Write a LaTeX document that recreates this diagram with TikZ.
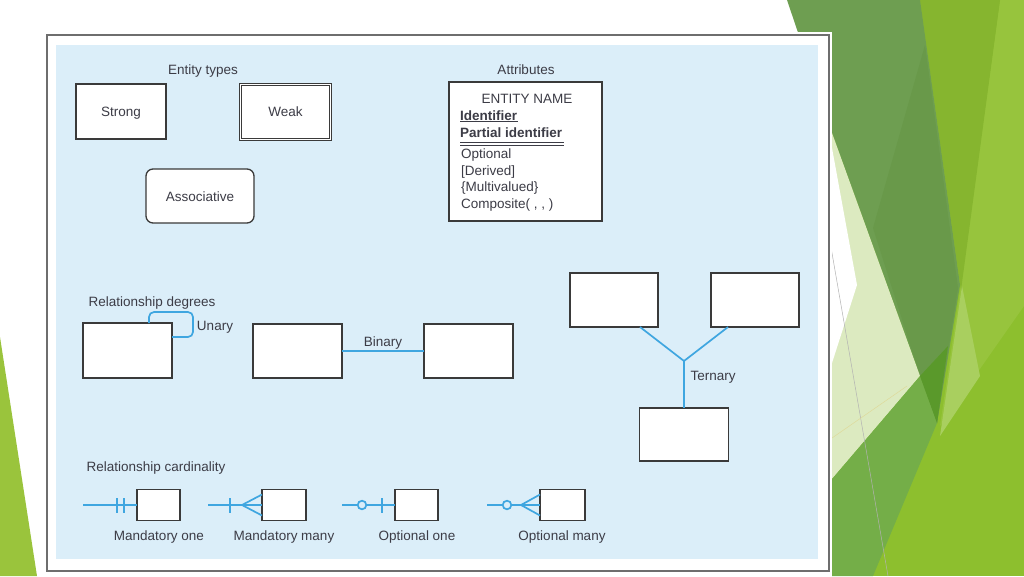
\documentclass[tikz,border=0pt]{standalone}
\usepackage{fontspec}
\setmainfont{Liberation Sans}
\usetikzlibrary{calc}
\definecolor{bgblue}{HTML}{DBEEF9}
\definecolor{relblue}{HTML}{3FA6E0}
\definecolor{boxline}{HTML}{3A3A3A}
\definecolor{txt}{HTML}{3C3C46}
\definecolor{framegray}{HTML}{6E6E6E}
\definecolor{gband}{HTML}{6E9E51}
\definecolor{gdark}{HTML}{69994A}
\definecolor{gyel}{HTML}{86B52F}
\definecolor{glight}{HTML}{97C43D}
\definecolor{gsliver}{HTML}{A9CF5F}
\definecolor{gbright}{HTML}{8DBF2E}
\definecolor{gpale}{HTML}{DCEAC0}
\definecolor{gmed}{HTML}{74AE48}
\definecolor{gdeep}{HTML}{5A992B}
\definecolor{gleft}{HTML}{9AC43C}
\begin{document}
\begin{tikzpicture}[x=1pt,y=-1pt,
  elbl/.style={text=txt,font=\fontsize{13.5}{16}\selectfont,inner sep=0pt,text height=9.7pt,text depth=2.9pt},
  lbl/.style={elbl,yshift=-1.6pt},
  blbl/.style={elbl,font=\fontsize{13.5}{16}\selectfont\bfseries},
  ebox/.style={draw=boxline,line width=1.3pt,fill=white,inner sep=0pt,outer sep=0pt},
  rel/.style={draw=relblue,line width=1.7pt}]
\useasboundingbox (0,0) rectangle (1024,576);
\fill[white] (0,0) rectangle (1024,576);
% ---- background decoration (right) ----
\fill[gbright] (832,0) rectangle (1024,576);
\fill[glight] (1000,0) -- (1024,0) -- (1024,306) -- (940,426) -- (960,290) -- cycle;
\fill[gsliver] (962,286) -- (980,376) -- (940,436) -- cycle;
\fill[gyel] (920,0) -- (1000,0) -- (961,290) -- cycle;
\fill[gband] (787,0) -- (920,0) -- (960,285) -- (937,423) -- (920,376) -- (832,133) -- cycle;
\fill[gdark] (925,45) -- (958,288) -- (937,423) -- (920,376) -- (873,228) -- cycle;
\fill[gpale] (832,133) -- (920,376) -- (832,479) -- cycle;
\fill[white] (832,148) -- (857,285) -- (832,363) -- cycle;
\fill[gmed] (832,479) -- (920,376) -- (937,423) -- (873,576) -- (832,576) -- cycle;
\fill[gdeep] (920,376) -- (948,346) -- (937,423) -- cycle;
\draw[draw=gray!60,line width=0.5pt] (828,230) -- (888,576);
\draw[draw=olive!30,line width=0.5pt] (832,438) -- (907,386);
% ---- left decoration ----
\fill[gleft] (0,337) -- (37,576) -- (0,576) -- cycle;
% ---- frame ----
\fill[white] (44,32) rectangle (832,574);
\draw[draw=framegray,line width=1.8pt] (47,35) rectangle (829,571);
\fill[bgblue] (56,45) rectangle (818,559);
% ---- entity types ----
\node[lbl] (enttypes) at (203,69) {Entity types};
\node[ebox,minimum width=90pt,minimum height=55pt] (strong) at (121,111.5) {};
\node[lbl] (strongt) at (121,111.5) {Strong};
\node[ebox,line width=1pt,double=white,double distance=1.6pt,minimum width=90pt,minimum height=55pt] (weak) at (285.5,112) {};
\node[lbl] (weakt) at (285.5,111.5) {Weak};
\node[ebox,rounded corners=7pt,minimum width=108pt,minimum height=54pt] (assoc) at (200,196) {};
\node[lbl] (assoct) at (200,196) {Associative};
% ---- attributes ----
\node[lbl] (attr) at (526,69) {Attributes};
\node[ebox,minimum width=153pt,minimum height=139pt] (ent) at (525.5,151.5) {};
\node[elbl] (ename) at (527,99.9) {ENTITY NAME};
\node[blbl,anchor=west] (idf) at (460,116.6) {Identifier};
\node[blbl,anchor=west] (pidf) at (460,133.9) {Partial identifier};
\node[elbl,anchor=west] (opt) at (461,155) {Optional};
\node[elbl,anchor=west] (der) at (461,171.8) {[Derived]};
\node[elbl,anchor=west] (mult) at (461,188.5) {\{Multivalued\}};
\node[elbl,anchor=west] (comp) at (461,205.2) {Composite( , , )};
\draw[draw=txt,line width=0.9pt] (460,121.5) -- (518,121.5);
\draw[draw=txt,line width=0.9pt] (460,142.6) -- (564,142.6);
\draw[draw=txt,line width=0.9pt] (460,145.2) -- (564,145.2);
% ---- relationship degrees ----
\node[lbl] (reldeg) at (152,301) {Relationship degrees};
\node[ebox,minimum width=89pt,minimum height=55pt] (u) at (127.5,350.5) {};
\draw[rel,rounded corners=5pt] ([xshift=-23pt]u.north east) |- (193,312) |- ([yshift=-14pt]u.north east);
\node[lbl] (unary) at (215,325) {Unary};
\node[ebox,minimum width=89pt,minimum height=54pt] (b1) at (297.5,351) {};
\node[ebox,minimum width=89pt,minimum height=54pt] (b2) at (468.5,351) {};
\draw[rel] (b1.east) -- (b2.west);
\node[lbl] (binary) at (383,341) {Binary};
\node[ebox,minimum width=88pt,minimum height=54pt] (t1) at (614,300) {};
\node[ebox,minimum width=88pt,minimum height=54pt] (t2) at (755,300) {};
\node[ebox,minimum width=89pt,minimum height=53pt] (t3) at (684,434.5) {};
\coordinate (tj) at (684,361);
\draw[rel] ([xshift=26pt]t1.south) -- (tj);
\draw[rel] ([xshift=-27pt]t2.south) -- (tj);
\draw[rel] (tj) -- (t3.north);
\node[lbl] (ternary) at (713,375) {Ternary};
% ---- relationship cardinality ----
\node[lbl] (relcard) at (156,466) {Relationship cardinality};
% mandatory one
\node[ebox,minimum width=43pt,minimum height=31pt] (c1) at (158.5,505) {};
\coordinate (c1s) at (83,505);
\draw[rel] (c1s) -- (c1.west);
\draw[rel] (117,498) -- (117,513);
\draw[rel] (124,498) -- (124,513);
\node[lbl] (c1t) at (159,535) {Mandatory one};
% mandatory many
\node[ebox,minimum width=44pt,minimum height=31pt] (c2) at (284,505) {};
\coordinate (c2s) at (208,505);
\coordinate (c2a) at (242,505);
\draw[rel] (c2s) -- (c2.west);
\draw[rel] (230,498) -- (230,513);
\draw[rel] ([yshift=10.5pt]c2.west) -- (c2a) -- ([yshift=-10.5pt]c2.west);
\node[lbl] (c2t) at (284,535) {Mandatory many};
% optional one
\node[ebox,minimum width=43pt,minimum height=31pt] (c3) at (416.5,505) {};
\coordinate (c3s) at (342,505);
\draw[rel] (c3s) -- (c3.west);
\draw[rel,fill=bgblue] (362,505) circle (4.3pt);
\draw[rel] (382,498) -- (382,513);
\node[lbl] (c3t) at (417,535) {Optional one};
% optional many
\node[ebox,minimum width=45pt,minimum height=31pt] (c4) at (562.5,505) {};
\coordinate (c4s) at (487,505);
\coordinate (c4a) at (521,505);
\draw[rel] (c4s) -- (c4.west);
\draw[rel] ([yshift=10.5pt]c4.west) -- (c4a) -- ([yshift=-10.5pt]c4.west);
\draw[rel,fill=bgblue] (507,505) circle (4.3pt);
\node[lbl] (c4t) at (562,535) {Optional many};
\end{tikzpicture}
\end{document}
